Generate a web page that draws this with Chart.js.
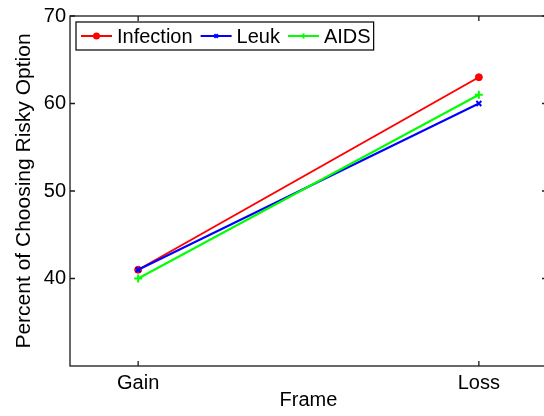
<!DOCTYPE html>
<html>
<head>
<meta charset="utf-8">
<script src="https://cdn.jsdelivr.net/npm/chart.js@4"></script>
<style>
html, body { margin: 0; padding: 0; background: #fff; overflow: hidden; }
canvas { display: block; }
</style>
</head>
<body>
<canvas id="riskChart" width="560" height="416"></canvas>
<script>
var frames = ['Gain', 'Loss'];
var seriesNames = ['Infection', 'Leuk', 'AIDS'];
var infection = [41, 63];
var leuk = [41, 60];
var aids = [40, 61];
var yTicks = [40, 50, 60, 70];

var fontFamily = '"Liberation Sans", Arial, Helvetica, sans-serif';

function toPoints(values) {
    return values.map(function(v, i) { return { x: i + 1, y: v }; });
}

// box round the plot, ticks pointing inward (matlab style)
var boxPlugin = {
    id: 'boxPlugin',
    afterDraw: function(chart) {
        var ctx = chart.ctx;
        var a = chart.chartArea;
        var xs = chart.scales.x, ys = chart.scales.y;
        var tl = 5;
        ctx.save();
        ctx.strokeStyle = '#1a1a1a';
        ctx.lineWidth = 1.3;
        ctx.strokeRect(a.left, a.top, a.right - a.left, a.bottom - a.top);
        ctx.beginPath();
        yTicks.forEach(function(v) {
            var py = ys.getPixelForValue(v);
            ctx.moveTo(a.left, py); ctx.lineTo(a.left + tl, py);
            ctx.moveTo(a.right, py); ctx.lineTo(a.right - tl, py);
        });
        frames.forEach(function(f, i) {
            var px = xs.getPixelForValue(i + 1);
            ctx.moveTo(px, a.bottom); ctx.lineTo(px, a.bottom - tl);
            ctx.moveTo(px, a.top); ctx.lineTo(px, a.top + tl);
        });
        ctx.stroke();

        // legend inside the plot, top left
        ctx.font = '20px ' + fontFamily;
        ctx.textBaseline = 'middle';
        var x = a.left + 11, cy = a.top + 20;
        var lineLen = 31;
        var start = x - 5;
        chart.data.datasets.forEach(function(ds) {
            ctx.strokeStyle = ds.borderColor;
            ctx.fillStyle = ds.borderColor;
            ctx.lineWidth = 2;
            ctx.beginPath();
            ctx.moveTo(x, cy); ctx.lineTo(x + lineLen, cy);
            ctx.stroke();
            Chart.helpers.drawPoint(ctx, { pointStyle: ds.pointStyle, radius: 2.5, borderWidth: 2, rotation: 0 }, x + lineLen / 2, cy);
            ctx.fillStyle = '#000';
            ctx.fillText(ds.label, x + lineLen + 5, cy + 1);
            x = x + lineLen + 5 + ctx.measureText(ds.label).width + 8;
        });
        ctx.strokeStyle = '#000';
        ctx.lineWidth = 1.2;
        ctx.strokeRect(start, cy - 14, x - 8 + 3 - start, 28);
        ctx.restore();
    }
};

var ctx = document.getElementById('riskChart').getContext('2d');
var riskChart = new Chart(ctx, {
    type: 'line',
    data: {
        datasets: [{
            label: seriesNames[0],
            data: toPoints(infection),
            borderColor: '#ff0000',
            backgroundColor: '#ff0000',
            pointStyle: 'circle',
            pointRadius: 3.5,
            pointBorderWidth: 1,
            borderWidth: 2,
            order: 3
        }, {
            label: seriesNames[1],
            data: toPoints(leuk),
            borderColor: '#0000ff',
            backgroundColor: '#0000ff',
            pointStyle: 'crossRot',
            pointRadius: 3.5,
            pointBorderWidth: 2,
            borderWidth: 2,
            order: 2
        }, {
            label: seriesNames[2],
            data: toPoints(aids),
            borderColor: '#00ff00',
            backgroundColor: '#00ff00',
            pointStyle: 'cross',
            pointRadius: 4,
            pointBorderWidth: 2,
            borderWidth: 2,
            order: 1
        }]
    },
    options: {
        responsive: false,
        devicePixelRatio: 1,
        animation: false,
        layout: { padding: { top: 15, right: 13, left: 0, bottom: 0 } },
        plugins: {
            legend: { display: false },
            tooltip: { enabled: false }
        },
        elements: { line: { tension: 0 } },
        scales: {
            x: {
                type: 'linear',
                min: 0.8,
                max: 2.2,
                afterBuildTicks: function(s) {
                    s.ticks = frames.map(function(f, i) { return { value: i + 1 }; });
                },
                afterFit: function(s) { s.height = 50; },
                grid: { display: false, drawTicks: false },
                border: { display: false },
                ticks: {
                    autoSkip: false,
                    maxRotation: 0,
                    padding: 5,
                    color: '#000',
                    font: { family: fontFamily, size: 20 },
                    callback: function(v) { return frames[v - 1] || ''; }
                },
                title: {
                    display: true,
                    text: 'Frame',
                    color: '#000',
                    font: { family: fontFamily, size: 20 },
                    padding: { top: 0, bottom: 4 }
                }
            },
            y: {
                min: 30,
                max: 70,
                afterBuildTicks: function(s) {
                    s.ticks = yTicks.map(function(v) { return { value: v }; });
                },
                afterFit: function(s) { s.width = 70; },
                grid: { display: false, drawTicks: false },
                border: { display: false },
                ticks: {
                    padding: 4,
                    color: '#000',
                    font: { family: fontFamily, size: 20 }
                },
                title: {
                    display: true,
                    text: 'Percent of Choosing Risky Option',
                    color: '#000',
                    font: { family: fontFamily, size: 21 },
                    padding: { top: 12, bottom: 0 }
                }
            }
        }
    },
    plugins: [boxPlugin]
});
</script>
</body>
</html>
